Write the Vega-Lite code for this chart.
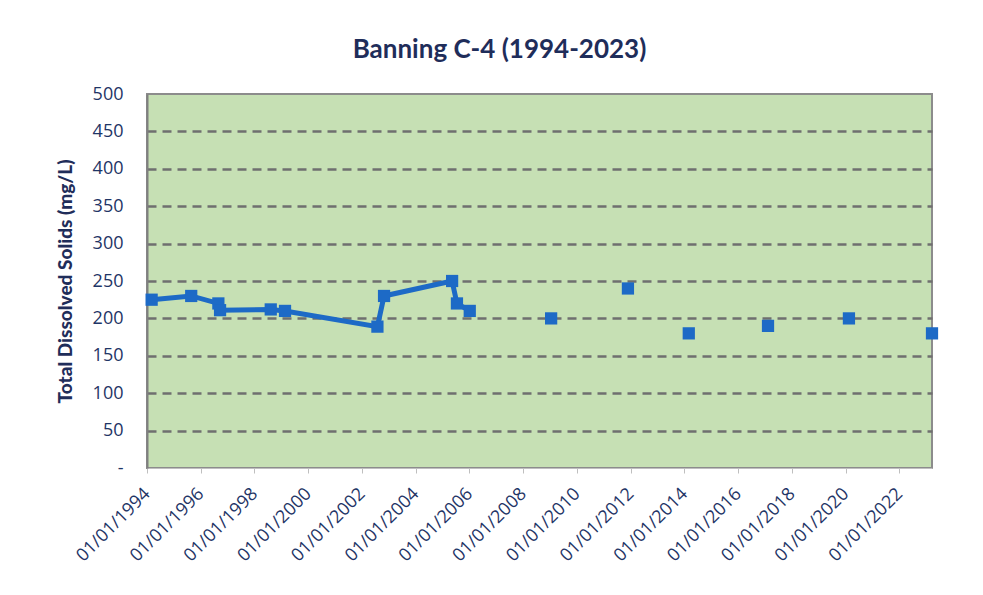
{
  "$schema": "https://vega.github.io/schema/vega-lite/v6.json",
  "autosize": {"type": "none"},
  "padding": {"left": 147, "top": 94, "right": 51, "bottom": 127},
  "width": 785,
  "height": 374,
  "background": "white",
  "title": {
    "text": "Banning C-4 (1994-2023)",
    "font": "Lato",
    "fontSize": 26,
    "fontWeight": "bold",
    "color": "#1F2D5A",
    "frame": "group",
    "anchor": "middle",
    "dx": -40,
    "dy": 34,
    "baseline": "bottom",
    "offset": 30
  },
  "config": {
    "view": {"fill": "#C6E0B4", "stroke": "#8C8C8C", "strokeWidth": 2},
    "axis": {"labelFont": "Open Sans", "titleFont": "Lato"}
  },
  "data": {
    "values": [
      {"date": "1994-03-05", "tds": 225},
      {"date": "1995-08-25", "tds": 230},
      {"date": "1996-08-28", "tds": 220},
      {"date": "1996-09-20", "tds": 211},
      {"date": "1998-08-10", "tds": 212},
      {"date": "1999-02-20", "tds": 210},
      {"date": "2002-07-30", "tds": 189},
      {"date": "2002-10-28", "tds": 230},
      {"date": "2005-05-10", "tds": 250},
      {"date": "2005-07-15", "tds": 220},
      {"date": "2006-01-05", "tds": 210},
      {"date": "2009-01-15", "tds": 200},
      {"date": "2011-11-25", "tds": 240},
      {"date": "2014-03-01", "tds": 180},
      {"date": "2017-02-10", "tds": 190},
      {"date": "2020-02-15", "tds": 200},
      {"date": "2023-03-20", "tds": 180}
    ]
  },
  "encoding": {
    "x": {
      "field": "date",
      "type": "temporal",
      "scale": {
        "type": "utc",
        "domain": [
          {"year": 1994, "month": 1, "date": 1, "utc": true},
          {"year": 2023, "month": 3, "date": 20, "utc": true}
        ]
      },
      "axis": {
        "title": null,
        "values": [
          {"year": 1994, "month": 1, "date": 1, "utc": true},
          {"year": 1996, "month": 1, "date": 1, "utc": true},
          {"year": 1998, "month": 1, "date": 1, "utc": true},
          {"year": 2000, "month": 1, "date": 1, "utc": true},
          {"year": 2002, "month": 1, "date": 1, "utc": true},
          {"year": 2004, "month": 1, "date": 1, "utc": true},
          {"year": 2006, "month": 1, "date": 1, "utc": true},
          {"year": 2008, "month": 1, "date": 1, "utc": true},
          {"year": 2010, "month": 1, "date": 1, "utc": true},
          {"year": 2012, "month": 1, "date": 1, "utc": true},
          {"year": 2014, "month": 1, "date": 1, "utc": true},
          {"year": 2016, "month": 1, "date": 1, "utc": true},
          {"year": 2018, "month": 1, "date": 1, "utc": true},
          {"year": 2020, "month": 1, "date": 1, "utc": true},
          {"year": 2022, "month": 1, "date": 1, "utc": true}
        ],
        "labelExpr": "utcFormat(datum.value, '%m/%d/%Y')",
        "labelAngle": -45,
        "labelAlign": "right",
        "labelBaseline": "middle",
        "labelFontSize": 18,
        "labelColor": "#1F3566",
        "labelPadding": 18,
        "labelOverlap": false,
        "labelFlush": false,
        "tickSize": 5,
        "tickColor": "#BFBFBF",
        "tickWidth": 1,
        "domainColor": "#BFBFBF",
        "domainWidth": 1,
        "grid": false
      }
    },
    "y": {
      "field": "tds",
      "type": "quantitative",
      "scale": {"domain": [0, 500], "nice": false, "zero": true},
      "axis": {
        "title": "Total Dissolved Solids (mg/L)",
        "titleFontSize": 19,
        "titleFontWeight": 900,
        "titleColor": "#1F2D5A",
        "titleX": -82,
        "titleY": 187,
        "titleBaseline": "middle",
        "titleAngle": -90,
        "values": [0, 50, 100, 150, 200, 250, 300, 350, 400, 450, 500],
        "labelExpr": "datum.value === 0 ? '-' : datum.label",
        "labelFontSize": 18,
        "labelColor": "#1F3566",
        "labelPadding": 24,
        "ticks": false,
        "domainColor": "#7F7F7F",
        "domainWidth": 2,
        "grid": true,
        "gridColor": "#6F6F6F",
        "gridWidth": 2.5,
        "gridDash": [9, 6],
        "gridOpacity": {"condition": {"test": "datum.value === 0 || datum.value === 500", "value": 0}, "value": 1}
      }
    }
  },
  "layer": [
    {
      "transform": [{"filter": {"field": "date", "lt": {"year": 2007, "month": 1, "date": 1, "utc": true}}}],
      "mark": {"type": "line", "color": "#1D6AC6", "strokeWidth": 5}
    },
    {
      "mark": {"type": "point", "shape": "square", "filled": true, "size": 150, "color": "#1D6AC6", "opacity": 1}
    }
  ]
}
